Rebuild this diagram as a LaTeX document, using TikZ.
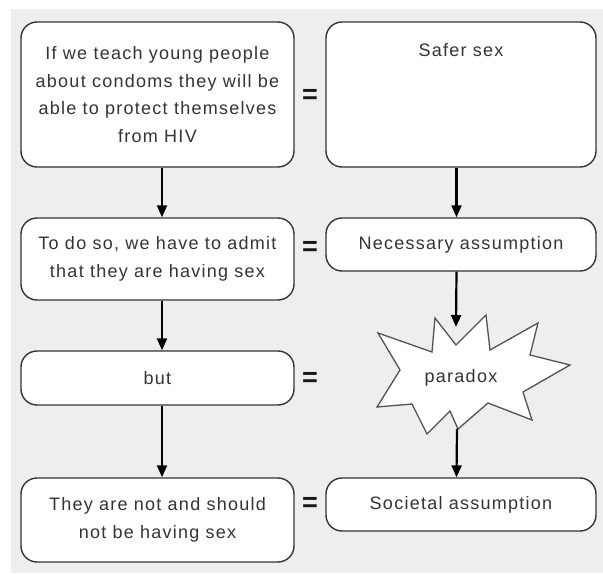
\documentclass[tikz,border=0pt]{standalone}
\usepackage{fontspec}
\setmainfont{Liberation Sans}[LetterSpace=7]
\usepackage{tikz}
\usetikzlibrary{calc,positioning,arrows.meta}
\definecolor{bggray}{RGB}{238,238,238}
\definecolor{inkgray}{RGB}{52,52,52}
\tikzset{
    box/.style={draw=inkgray, line width=1.4, fill=white, rounded corners=16, inner sep=0, align=center, text=inkgray,
        font=\fontsize{18}{27.7}\selectfont},
    txt/.style={text=inkgray, align=center, inner sep=0, font=\fontsize{18}{27.7}\selectfont},
    equal/.style={text=black!90, inner sep=0, font=\fontsize{27}{27}\selectfont\bfseries},
    flow/.style={line width=2.2, -{Triangle[length=12,width=10]}},
}

\begin{document}
\begin{tikzpicture}[x=1pt,y=1pt,yscale=-1,xscale=1]
		\useasboundingbox (0,0) rectangle (603,575);
		\fill [bggray] (11,9) rectangle (603,573);
		
		% Left column
		\node (teach) at (157.5,94.5) [box, minimum width=273, minimum height=145] {If we teach young people\\about condoms they will be\\able to protect themselves\\from HIV};
		\node (admit) at (157.5,259) [box, minimum width=273, minimum height=82] {To do so, we have to admit\\that they are having sex};
		\node (but) at (157.5,378) [box, minimum width=273, minimum height=54] {but};
		\node (notsex) at (157.5,520) [box, minimum width=273, minimum height=84] {They are not and should\\not be having sex};
		
		% Right column
		\node (safer) at (461,94.5) [box, minimum width=270, minimum height=145] {};
		\node (safertext) at (461,50) [txt] {Safer sex};
		\node (necessary) at (461,244.5) [box, minimum width=270, minimum height=53] {Necessary assumption};
		\draw [draw=inkgray!85, line width=1.3, fill=white, line join=miter]
			(378,333) -- (432,352) -- (435,318) -- (456,345) -- (486,315) -- (490,350) -- (538,323) -- (530,355)
			-- (570,365) -- (523,392) -- (532,420) -- (488,403) -- (458,429) -- (450,411) -- (427,434) -- (412,404)
			-- (377,407) -- (400,370) -- cycle ;
		\node (paradox) at (461,378) [txt] {paradox};
		\coordinate (bursttop) at (456,327);
		\coordinate (burstbottom) at (457,429);
		\node (societal) at (461,504.5) [box, minimum width=270, minimum height=53] {Societal assumption};
		
		% Equal signs
		\node (eqa) at (310,96) [equal] {=};
		\node (eqb) at (310,248) [equal] {=};
		\node (eqc) at (310,379) [equal] {=};
		\node (eqd) at (310,504) [equal] {=};
		
		% Connection
		\draw [flow] ([xshift=4.5]teach.south) -- ([xshift=4.5]admit.north);
		\draw [flow] ([xshift=4.5]admit.south) -- ([xshift=4.5]but.north);
		\draw [flow] ([xshift=4.5]but.south) -- ([xshift=4.5]notsex.north);
		\draw [flow] ([xshift=-4.5]safer.south) -- ([xshift=-4.5]necessary.north);
		\draw [flow] ([xshift=-4.5]necessary.south) -- (bursttop);
		\draw [flow] (burstbottom) -- ([xshift=-4.5]societal.north);
		
\end{tikzpicture}
\end{document}
